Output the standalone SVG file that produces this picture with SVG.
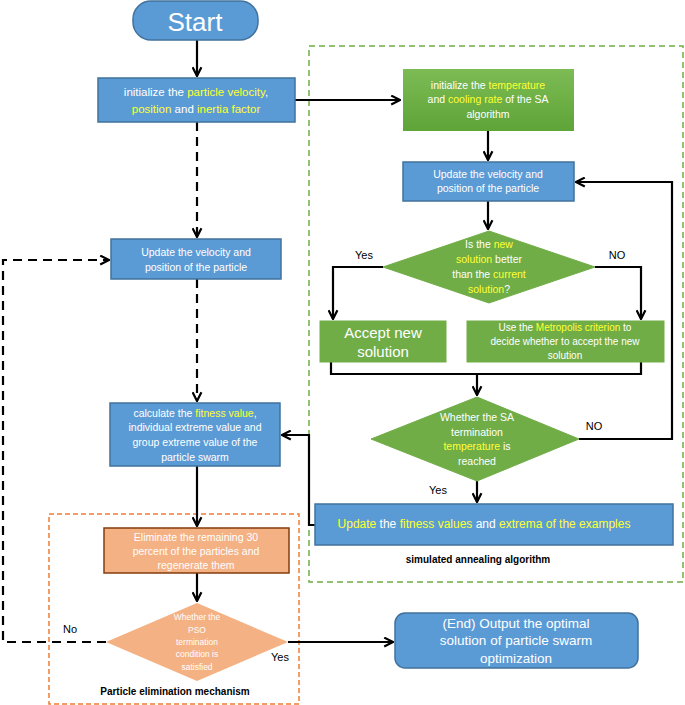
<svg xmlns="http://www.w3.org/2000/svg" width="685" height="705" viewBox="0 0 685 705">
<style>
.b{fill:#5B9BD5;stroke:#41719C;stroke-width:1.5}
.g{fill:#70AD47;stroke:#70AD47}
.t{font-family:"Liberation Sans",Arial,sans-serif;font-size:10.5px;fill:#fff;text-anchor:middle}
.y{fill:#FFFF33}
.k{font-family:"Liberation Sans",Arial,sans-serif;font-size:11px;fill:#000;text-anchor:middle}
.l{fill:none;stroke:#000;stroke-width:2.2}
.d{fill:none;stroke:#000;stroke-width:2.2;stroke-dasharray:9,6}
</style>
<defs>
<marker id="a" viewBox="0 0 10 10" refX="9" refY="5" markerWidth="5" markerHeight="5" orient="auto"><path d="M1,1 L9,5 L1,9" fill="none" stroke="#000" stroke-width="2"/></marker>
<linearGradient id="gg" x1="0" y1="0" x2="0" y2="1"><stop offset="0" stop-color="#7DBB55"/><stop offset="1" stop-color="#5EA437"/></linearGradient>
</defs>
<rect x="309" y="46" width="374" height="536" fill="none" stroke="#70AD47" stroke-width="1.5" stroke-dasharray="6,4"/>
<rect x="49" y="514" width="250" height="190" fill="none" stroke="#ED7D31" stroke-width="1.5" stroke-dasharray="5,3"/>
<g id="connectors">
<path class="l" d="M197,40 V76" marker-end="url(#a)"/>
<path class="l" d="M295,100 H400" marker-end="url(#a)"/>
<path class="d" d="M197,122 V237" marker-end="url(#a)"/>
<path class="d" d="M197,279 V401" marker-end="url(#a)"/>
<path class="d" d="M106,642 H3 V260 H109" marker-end="url(#a)"/>
<path class="l" d="M488,131 V160" marker-end="url(#a)"/>
<path class="l" d="M488,201 V229" marker-end="url(#a)"/>
<path class="l" d="M383,267 H333 V319" marker-end="url(#a)"/>
<path class="l" d="M595,267 H641 V319" marker-end="url(#a)"/>
<path class="l" d="M331,362 V374 H641 V362"/>
<path class="l" d="M477,374 V395" marker-end="url(#a)"/>
<path class="l" d="M579,439 H672 V182 H576" marker-end="url(#a)"/>
<path class="l" d="M477,481 V502" marker-end="url(#a)"/>
<path class="l" d="M315,525 H309 V435 H282" marker-end="url(#a)"/>
<path class="l" d="M197,466 V526" marker-end="url(#a)"/>
<path class="l" d="M197,573 V601" marker-end="url(#a)"/>
<path class="l" d="M288,642 H393" marker-end="url(#a)"/>
</g>
<g id="start"><rect class="b" x="133" y="1" width="125" height="39" rx="18"/><text class="t" x="195" y="31" style="font-size:26px">Start</text></g>
<g id="init"><rect class="b" x="98" y="78" width="197" height="44"/>
<text class="t" x="196" y="96" style="font-size:11.5px">initialize the <tspan class="y">particle velocity</tspan>,</text>
<text class="t" x="196" y="113" style="font-size:11.5px"><tspan class="y">position</tspan> and <tspan class="y">inertia factor</tspan></text></g>
<g id="update_pso"><rect class="b" x="111" y="239" width="170" height="40"/>
<text class="t" x="196" y="256">Update the velocity and</text><text class="t" x="196" y="271">position of the particle</text></g>
<g id="calc"><rect class="b" x="110" y="403" width="170" height="63"/>
<text class="t" x="195" y="417">calculate the <tspan class="y">fitness value</tspan>,</text>
<text class="t" x="195" y="431">individual extreme value and</text>
<text class="t" x="195" y="446">group extreme value of the</text>
<text class="t" x="195" y="461">particle swarm</text></g>
<g id="elim"><rect x="104" y="528" width="185" height="45" fill="#F4B183" stroke="#843C0C" stroke-width="1.5"/>
<text class="t" x="196" y="541">Eliminate the remaining 30</text>
<text class="t" x="196" y="555">percent of the particles and</text>
<text class="t" x="196" y="569">regenerate them</text></g>
<g id="pso_term"><polygon points="197,603 288,642 197,681 106,642" fill="#F4B183"/>
<g class="t" style="font-size:8.5px"><text x="197" y="620">Whether the</text><text x="197" y="633">PSO</text><text x="197" y="645">termination</text><text x="197" y="657">condition is</text><text x="197" y="670">satisfied</text></g></g>
<g id="end"><rect class="b" x="395" y="613" width="243" height="55" rx="10"/>
<text class="t" x="516" y="628" style="font-size:13.5px">(End)  Output the optimal</text>
<text class="t" x="516" y="645" style="font-size:13.5px">solution of particle swarm</text>
<text class="t" x="516" y="663" style="font-size:13.5px">optimization</text></g>
<g id="sa_init"><rect x="403" y="69" width="171" height="62" fill="url(#gg)"/>
<text class="t" x="488" y="89">initialize the <tspan class="y">temperature</tspan></text>
<text class="t" x="488" y="103">and <tspan class="y">cooling rate</tspan> of the SA</text>
<text class="t" x="488" y="118">algorithm</text></g>
<g id="sa_update"><rect class="b" x="403" y="162" width="171" height="39"/>
<text class="t" x="488" y="178">Update the velocity and</text><text class="t" x="488" y="192">position of the particle</text></g>
<g id="better"><polygon class="g" points="489,231 595,267 489,303 383,267"/>
<g class="t"><text x="489" y="248">Is the <tspan class="y">new</tspan></text><text x="489" y="263"><tspan class="y">solution</tspan> better</text><text x="489" y="278">than the <tspan class="y">current</tspan></text><text x="489" y="293"><tspan class="y">solution</tspan>?</text></g></g>
<g id="accept"><rect class="g" x="320" y="321" width="126" height="41"/>
<text class="t" x="383" y="338" style="font-size:15px">Accept new</text><text class="t" x="383" y="357" style="font-size:15px">solution</text></g>
<g id="metro"><rect class="g" x="467" y="321" width="197" height="41"/>
<text class="t" x="565" y="331" style="font-size:10px">Use the <tspan class="y">Metropolis criterion</tspan> to</text>
<text class="t" x="565" y="345" style="font-size:10px">decide whether to accept the new</text>
<text class="t" x="565" y="359" style="font-size:10px">solution</text></g>
<g id="sa_term"><polygon class="g" points="477,397 579,439 477,481 371,439"/>
<g class="t"><text x="477" y="421">Whether  the SA</text><text x="477" y="436">termination</text><text x="477" y="450"><tspan class="y">temperature</tspan> is</text><text x="477" y="465">reached</text></g></g>
<g id="sa_fit"><rect class="b" x="315" y="504" width="358" height="41"/>
<text class="t" x="484" y="528" style="font-size:12px"><tspan class="y">Update</tspan> the <tspan class="y">fitness values</tspan> and <tspan class="y">extrema of the examples</tspan></text></g>
<g id="labels">
<text class="k" x="364" y="259">Yes</text><text class="k" x="617" y="259">NO</text>
<text class="k" x="594" y="430">NO</text><text class="k" x="438" y="494">Yes</text>
<text class="k" x="70" y="633">No</text><text class="k" x="280" y="661">Yes</text>
<text class="k" x="478" y="563" style="font-weight:bold;font-size:10px">simulated annealing algorithm</text>
<text class="k" x="175" y="695" style="font-weight:bold;font-size:10px">Particle elimination mechanism</text>
</g>
</svg>
